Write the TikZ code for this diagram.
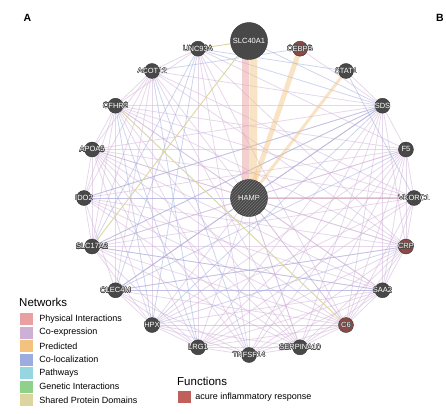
\documentclass[tikz,border=0pt]{standalone}
\usepackage{fontspec}
\setmainfont{Liberation Sans}
\usepackage[copies]{contour}
\usetikzlibrary{backgrounds,patterns,positioning}
\definecolor{gene}{RGB}{72,72,72}
\definecolor{genered}{RGB}{138,74,70}
\definecolor{physcol}{RGB}{232,160,162}
\definecolor{coexpcol}{RGB}{206,176,214}
\definecolor{predcol}{RGB}{242,194,126}
\definecolor{coloccol}{RGB}{156,172,222}
\definecolor{pathcol}{RGB}{150,214,224}
\definecolor{genintcol}{RGB}{143,208,138}
\definecolor{domcol}{RGB}{221,213,160}
\definecolor{funccol}{RGB}{192,96,90}
\contourlength{0.3pt}
\newcommand{\gname}[1]{{\color{white}\contour{gene}{#1}}}

\begin{document}
\begin{tikzpicture}[x=1pt,y=-1pt,
    gnode/.style={circle,draw=gene!70!black,line width=0.4pt,minimum size=15pt,inner sep=0pt},
    bignode/.style={gnode,fill=gene,minimum size=37pt},
    lbl/.style={inner sep=0pt,font=\fontsize{7.5}{8}\selectfont},
    coexp/.style={draw=coexpcol,line width=0.8pt,opacity=0.5},
    coloc/.style={draw=coloccol,line width=0.8pt,opacity=0.5},
    protdomain/.style={draw=domcol,line width=0.9pt},
    swatch/.style={minimum width=13pt,minimum height=12pt,inner sep=0pt},
    legtext/.style={inner sep=0pt,font=\fontsize{9}{10}\selectfont},
    legtitle/.style={inner sep=0pt,anchor=west,font=\fontsize{11.5}{12}\selectfont}]
\useasboundingbox (0,0) rectangle (446,413);

% genes on the ring
\foreach \g/\a/\c in {CEBPB/72/genered, STAT1/54/gene, SDS/36/gene, F5/18/gene,
        VKORC1/0/gene, CRP/-18/genered, SAA2/-36/gene, C6/-54/genered,
        SERPINA10/-72/gene, TNFSF14/-90/gene, LRG1/-108/gene, HPX/-126/gene,
        CLEC4M/-144/gene, SLC17A2/-162/gene, IDO2/180/gene, APOA5/162/gene,
        CFHR2/144/gene, ACOT12/126/gene, UNC93A/108/gene}
{
    \node[gnode,fill=\c] (\g) at ({249+165*cos(\a)},{198-157*sin(\a)}) {};
    \node[lbl] at (\g) {\gname{\g}};
}
\node[bignode] (SLC40A1) at (249,41) {};
\node[lbl] at (SLC40A1) {\gname{SLC40A1}};
\node[bignode,postaction={pattern=north east lines,pattern color=gene!75!white}] (HAMP) at (249,198) {};
\node[lbl] at (HAMP) {\gname{HAMP}};

% connectors
\begin{scope}[on background layer]
    \foreach \a/\b in {SDS/CFHR2, SDS/APOA5, SDS/IDO2, SDS/SLC17A2, SDS/CLEC4M, SDS/LRG1,
            SDS/TNFSF14, SDS/SERPINA10, SDS/C6, SDS/SAA2, SDS/CRP, SDS/F5, SDS/HAMP,
            SDS/ACOT12, SDS/CEBPB, SDS/STAT1,
            CFHR2/APOA5, CFHR2/IDO2, CFHR2/SLC17A2, CFHR2/CLEC4M, CFHR2/TNFSF14,
            CFHR2/SERPINA10, CFHR2/SAA2, CFHR2/CRP, CFHR2/F5, CFHR2/HAMP, CFHR2/ACOT12,
            CFHR2/VKORC1,
            ACOT12/APOA5, ACOT12/SLC17A2, ACOT12/HPX, ACOT12/SERPINA10, ACOT12/CRP,
            ACOT12/C6, ACOT12/IDO2, ACOT12/CLEC4M, ACOT12/VKORC1,
            UNC93A/LRG1, UNC93A/TNFSF14, UNC93A/SERPINA10, UNC93A/C6, UNC93A/F5,
            UNC93A/CFHR2, UNC93A/ACOT12, UNC93A/CRP,
            CRP/SLC17A2, CRP/IDO2, CRP/APOA5, CRP/LRG1, CRP/TNFSF14, CRP/SERPINA10,
            CRP/C6, CRP/SAA2, CRP/F5, CRP/VKORC1, CRP/HAMP, CRP/CLEC4M,
            HPX/F5, HPX/VKORC1, HPX/SAA2, HPX/SERPINA10, HPX/LRG1, HPX/TNFSF14,
            HPX/SLC17A2, HPX/CLEC4M, HPX/APOA5,
            SLC17A2/F5, SLC17A2/VKORC1, SLC17A2/SAA2, SLC17A2/C6, SLC17A2/SERPINA10,
            SLC17A2/LRG1, SLC17A2/APOA5, SLC17A2/IDO2, SLC17A2/HAMP,
            C6/APOA5, C6/IDO2, C6/CLEC4M, C6/LRG1, C6/TNFSF14, C6/SERPINA10, C6/SAA2,
            C6/F5, C6/VKORC1,
            SERPINA10/APOA5, SERPINA10/LRG1, SERPINA10/TNFSF14, SERPINA10/F5,
            SERPINA10/SAA2, SERPINA10/IDO2,
            LRG1/F5, LRG1/SAA2, LRG1/TNFSF14, LRG1/APOA5, LRG1/VKORC1,
            TNFSF14/APOA5, TNFSF14/F5, TNFSF14/SAA2,
            APOA5/F5, APOA5/VKORC1, APOA5/IDO2, APOA5/SAA2, APOA5/HAMP,
            F5/VKORC1, F5/SAA2, F5/HAMP, F5/IDO2,
            SAA2/CLEC4M, SAA2/IDO2, SAA2/HAMP, SAA2/VKORC1,
            CLEC4M/IDO2, CLEC4M/LRG1, CLEC4M/TNFSF14,
            HAMP/LRG1, HAMP/HPX, HAMP/TNFSF14, HAMP/SERPINA10, HAMP/C6, HAMP/IDO2,
            HAMP/CLEC4M}
        \draw[coexp] (\a) -- (\b);
    \foreach \a/\b in {UNC93A/SLC17A2, UNC93A/HPX, UNC93A/CLEC4M, UNC93A/SDS, UNC93A/STAT1,
            SDS/HPX, SDS/CLEC4M, SDS/SLC17A2, CFHR2/HPX, CFHR2/LRG1,
            ACOT12/LRG1, ACOT12/TNFSF14, HPX/C6, HPX/CRP, CLEC4M/SAA2, CLEC4M/CRP,
            SLC17A2/SAA2, STAT1/VKORC1, F5/CLEC4M, SDS/IDO2, IDO2/VKORC1,
            CEBPB/ACOT12, SLC40A1/SDS}
        \draw[coloc] (\a) -- (\b);
    \foreach \a/\b in {UNC93A/SLC40A1, SLC40A1/SLC17A2, CFHR2/C6}
        \draw[protdomain] (\a) -- (\b);
    % strong links to HAMP
    \draw[physcol,line width=7pt,opacity=0.5] ([xshift=-4pt]SLC40A1.center) -- ([xshift=-4pt]HAMP.center);
    \draw[predcol,line width=8pt,opacity=0.45] ([xshift=4.5pt]SLC40A1.center) -- ([xshift=4pt]HAMP.center);
    \draw[predcol,line width=5pt,opacity=0.45] (CEBPB.center) -- (HAMP.center);
    \draw[predcol,line width=3pt,opacity=0.45] (STAT1.center) -- (HAMP.center);
    \draw[physcol,line width=1.3pt,opacity=0.5] (HAMP.center) -- (VKORC1.center);
\end{scope}

% panel letters
\node[font=\bfseries\fontsize{10.5}{11}\selectfont] (pA) at (27.5,18) {A};
\node[font=\bfseries\fontsize{10.5}{11}\selectfont] (pB) at (440,18) {B};

% legend
\node[legtitle] (nettitle) at (19,302) {Networks};
\foreach \c/\t [count=\i] in {physcol/Physical Interactions, coexpcol/Co-expression,
        predcol/Predicted, coloccol/Co-localization, pathcol/Pathways,
        genintcol/Genetic Interactions, domcol/Shared Protein Domains}
{
    \node[swatch,fill=\c] (sw\i) at (26.5,{305.5+13.5*\i}) {};
    \node[legtext,right=6pt of sw\i] {\t};
}
\node[legtitle] (functitle) at (177,381) {Functions};
\node[swatch,fill=funccol] (swf) at (184.5,397) {};
\node[legtext,right=4pt of swf] {acure inflammatory response};
\end{tikzpicture}
\end{document}
